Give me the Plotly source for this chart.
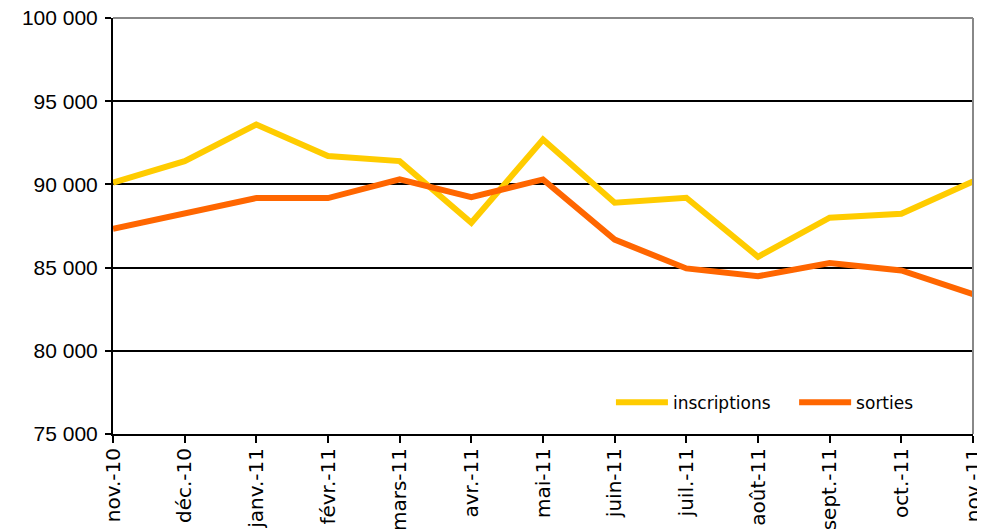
import plotly.graph_objects as go

months = ["nov.-10", "déc.-10", "janv.-11", "févr.-11", "mars-11", "avr.-11", "mai-11",
          "juin-11", "juil.-11", "août-11", "sept.-11", "oct.-11", "nov.-11"]
inscriptions = [90100, 91400, 93600, 91700, 91400, 87700, 92700,
                88900, 89200, 85650, 88000, 88240, 90180]
sorties = [87330, 88210, 89180, 89180, 90300, 89230, 90300,
           86680, 84950, 84480, 85280, 84830, 83410]
y_ticks = [75000, 80000, 85000, 90000, 95000, 100000]
y_labels = ["75 000", "80 000", "85 000", "90 000", "95 000", "100 000"]

fig = go.Figure()
fig.add_trace(go.Scatter(x=months, y=inscriptions, mode="lines", name="inscriptions",
                         line=dict(color="#FFCC00", width=6), legend="legend"))
fig.add_trace(go.Scatter(x=months, y=sorties, mode="lines", name="sorties",
                         line=dict(color="#FF6600", width=6), legend="legend2"))

legend_common = dict(yanchor="middle", xanchor="left", bgcolor="rgba(0,0,0,0)",
                     itemwidth=52, borderwidth=0,
                     font=dict(family="DejaVu Sans", size=17, color="black"))

fig.update_layout(
    width=977, height=521,
    margin=dict(l=105, r=12, t=10, b=95, autoexpand=False),
    plot_bgcolor="white", paper_bgcolor="white",
    showlegend=True,
    legend=dict(x=0.579, y=0.075, **legend_common),
    legend2=dict(x=0.792, y=0.075, **legend_common),
    xaxis=dict(
        type="category", range=[0, 12], automargin=False,
        showline=True, linecolor="black", linewidth=2,
        ticks="outside", ticklen=7, tickwidth=2, tickcolor="black",
        tickangle=-90, showgrid=False, ticklabelstandoff=-3,
        ticklabeloverflow="allow",
        tickfont=dict(family="DejaVu Sans", size=20, color="black"),
    ),
    yaxis=dict(
        range=[75000, 100000], automargin=False,
        tickvals=y_ticks, ticktext=y_labels,
        showline=True, linecolor="black", linewidth=2,
        ticks="outside", ticklen=6, tickwidth=2, tickcolor="black",
        showgrid=True, gridcolor="black", gridwidth=1.5,
        zeroline=False, ticklabeloverflow="allow", ticklabelstandoff=3,
        tickfont=dict(family="Liberation Sans", size=21, color="black"),
    ),
    shapes=[
        dict(type="line", xref="paper", yref="paper", x0=0, x1=1, y0=1, y1=1,
             line=dict(color="#888888", width=2)),
        dict(type="line", xref="paper", yref="paper", x0=1, x1=1, y0=0, y1=1,
             line=dict(color="#888888", width=2)),
    ],
)

fig.write_html("out.html")
